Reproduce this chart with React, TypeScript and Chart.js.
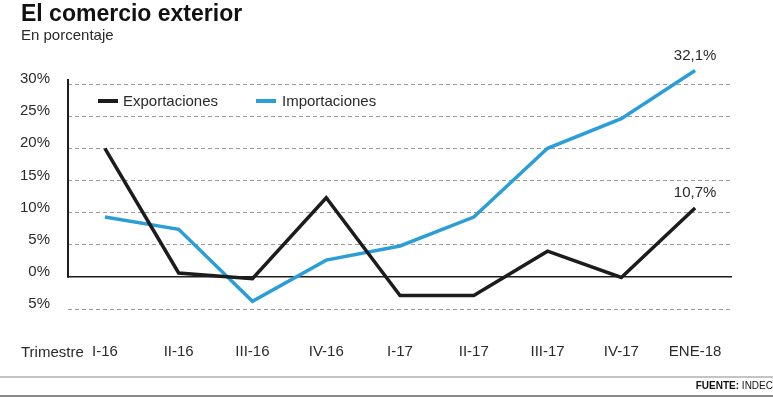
import React, { useEffect, useRef } from 'react';
import { Chart, registerables } from 'chart.js';

Chart.register(...registerables);

const categories = ['I-16', 'II-16', 'III-16', 'IV-16', 'I-17', 'II-17', 'III-17', 'IV-17', 'ENE-18'];
const exportaciones = [20.0, 0.6, -0.3, 12.3, -2.9, -2.9, 4.0, -0.1, 10.7];
const importaciones = [9.3, 7.4, -3.8, 2.6, 4.8, 9.3, 20.0, 24.6, 32.1];
const yTicks = [-5, 0, 5, 10, 15, 20, 25, 30];

const BLACK = '#1c1c1c';
const BLUE = '#2b9fd5';
const TEXT = '#2a2a2a';
const FONT = '"Liberation Sans", Arial, sans-serif';

const fmt = (v: number) => v.toFixed(1).replace('.', ',') + '%';

const axisLinePlugin = {
  id: 'axisLine',
  beforeDatasetsDraw(chart: any) {
    const { ctx, chartArea, scales } = chart;
    const y0 = scales.y.getPixelForValue(0);
    ctx.save();
    ctx.strokeStyle = BLACK;
    ctx.lineWidth = 2;
    ctx.beginPath();
    ctx.moveTo(chartArea.left, chartArea.top - 5);
    ctx.lineTo(chartArea.left, y0 + 1);
    ctx.stroke();
    ctx.restore();
  },
};

const endLabelPlugin = {
  id: 'endLabels',
  afterDatasetsDraw(chart: any) {
    const { ctx } = chart;
    ctx.save();
    ctx.font = `15px ${FONT}`;
    ctx.fillStyle = TEXT;
    ctx.textAlign = 'center';
    ctx.textBaseline = 'alphabetic';
    chart.data.datasets.forEach((ds: any, i: number) => {
      const meta = chart.getDatasetMeta(i);
      const last = meta.data.length - 1;
      const pt = meta.data[last];
      ctx.fillText(fmt(ds.data[last]), pt.x, pt.y - 11);
    });
    ctx.restore();
  },
};

function LineChart() {
  const ref = useRef<HTMLCanvasElement | null>(null);
  useEffect(() => {
    if (!ref.current) return;
    const chart = new Chart(ref.current, {
      type: 'line',
      data: {
        labels: categories,
        datasets: [
          {
            label: 'Exportaciones',
            data: exportaciones,
            borderColor: BLACK,
            borderWidth: 3.5,
            pointRadius: 0,
            tension: 0,
            clip: false,
            fill: false,
          },
          {
            label: 'Importaciones',
            data: importaciones,
            borderColor: BLUE,
            borderWidth: 3.5,
            pointRadius: 0,
            tension: 0,
            clip: false,
            fill: false,
          },
        ],
      },
      options: {
        animation: false,
        responsive: true,
        maintainAspectRatio: false,
        layout: { padding: { top: 84, right: 41, left: 0, bottom: 0 } },
        plugins: {
          legend: { display: false },
          tooltip: { enabled: false },
          title: { display: false },
        },
        scales: {
          x: {
            type: 'category',
            offset: true,
            grid: { display: false, drawTicks: false },
            border: { display: false },
            ticks: {
              font: { size: 15, family: FONT },
              color: TEXT,
              padding: 34,
              maxRotation: 0,
              autoSkip: false,
            },
            afterFit: (scale: any) => {
              scale.height = 88;
            },
          },
          y: {
            min: yTicks[0],
            max: yTicks[yTicks.length - 1],
            afterBuildTicks: (scale: any) => {
              scale.ticks = yTicks.map((v) => ({ value: v }));
            },
            afterFit: (scale: any) => {
              scale.width = 68;
            },
            grid: {
              drawTicks: false,
              color: (c: any) => (c.tick && c.tick.value === 0 ? BLACK : '#9a9a9a'),
              lineWidth: (c: any) => (c.tick && c.tick.value === 0 ? 1.5 : 1),
            },
            border: {
              display: false,
              dash: (c: any) => (c.tick && c.tick.value === 0 ? [] : [4, 3]),
            },
            ticks: {
              font: { size: 15, family: FONT },
              color: TEXT,
              padding: 18,
              labelOffset: -5,
              callback: (v: any) => Math.abs(Number(v)) + '%',
            },
          },
        },
      } as any,
      plugins: [axisLinePlugin, endLabelPlugin],
    });
    return () => chart.destroy();
  }, []);
  return <canvas ref={ref} />;
}

const textBase: React.CSSProperties = {
  position: 'absolute',
  fontFamily: FONT,
  color: TEXT,
  whiteSpace: 'nowrap',
  margin: 0,
};

export default function App() {
  return (
    <div
      style={{
        position: 'absolute',
        left: 0,
        top: 0,
        width: 773,
        height: 397,
        background: '#fff',
        overflow: 'hidden',
      }}
    >
      <div style={{ position: 'absolute', left: 0, top: 0, width: 773, height: 397 }}>
        <LineChart />
      </div>
      <div style={{ ...textBase, left: 21, top: 1.5, fontSize: 23, lineHeight: '23px', fontWeight: 700, color: '#111' }}>
        El comercio exterior
      </div>
      <div style={{ ...textBase, left: 21, top: 26.6, fontSize: 15, lineHeight: '15px' }}>En porcentaje</div>
      <div style={{ position: 'absolute', left: 98, top: 99, width: 20, height: 3.5, background: BLACK }} />
      <div style={{ ...textBase, left: 123, top: 93.3, fontSize: 15, lineHeight: '15px' }}>Exportaciones</div>
      <div style={{ position: 'absolute', left: 256, top: 99, width: 20, height: 3.5, background: BLUE }} />
      <div style={{ ...textBase, left: 282, top: 93.3, fontSize: 15, lineHeight: '15px' }}>Importaciones</div>
      <div style={{ ...textBase, left: 21, top: 344, fontSize: 15, lineHeight: '15px' }}>Trimestre</div>
      <div style={{ position: 'absolute', left: 0, top: 376, width: 773, height: 2, background: '#c4c4c4' }} />
      <div
        style={{
          ...textBase,
          right: 0,
          top: 380.8,
          fontSize: 10,
          lineHeight: '10px',
          fontFamily: '"Liberation Sans Narrow", "Liberation Sans", Arial, sans-serif',
          color: '#111',
        }}
      >
        <b>FUENTE:</b> INDEC
      </div>
      <div style={{ position: 'absolute', left: 0, top: 395, width: 773, height: 1.5, background: '#8a8a8a' }} />
    </div>
  );
}
